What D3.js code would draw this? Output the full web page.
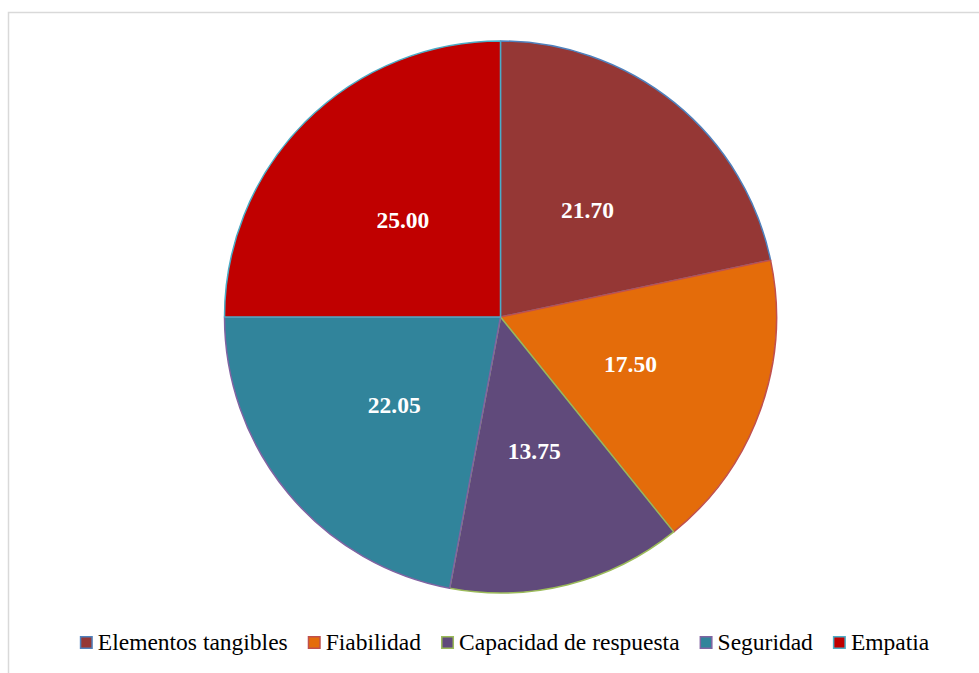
<!DOCTYPE html>
<html><head><meta charset="utf-8">
<script src="https://cdn.jsdelivr.net/npm/d3@7"></script>
<style>body{margin:0;background:#fff}svg{display:block}</style>
</head><body>
<script>
const categories = ["Elementos tangibles","Fiabilidad","Capacidad de respuesta","Seguridad","Empatia"];
const values = [21.70, 17.50, 13.75, 22.05, 25.00];
const labels = ["21.70","17.50","13.75","22.05","25.00"];
const fills = ["#953735","#E46C0A","#604A7B","#31849B","#C00000"];
const strokes = ["#4F81BD","#C0504D","#9BBB59","#8064A2","#4BACC6"];

const FONT = "Liberation Serif";
const W=979,H=673;
const svg=d3.select("body").append("svg").attr("width",W).attr("height",H);
svg.append("rect").attr("x",8.5).attr("y",12.5).attr("width",W).attr("height",H)
  .attr("fill","#fff").attr("stroke","#d9d9d9").attr("stroke-width",1.5);

const cx=500.5, cy=317, R=276;
const data=categories.map((c,i)=>({c,v:values[i],l:labels[i],f:fills[i],s:strokes[i]}));
const pie=d3.pie().value(d=>d.v).sort(null);
const arc=d3.arc().innerRadius(0).outerRadius(R);
const lab=d3.arc().innerRadius(R*0.5).outerRadius(R*0.5);
const g=svg.append("g").attr("transform",`translate(${cx},${cy})`);
const arcs=pie(data);
g.selectAll("path").data(arcs).join("path").attr("d",arc)
 .attr("fill",d=>d.data.f).attr("stroke",d=>d.data.s).attr("stroke-width",1.5).attr("stroke-linejoin","round");
g.selectAll("text").data(arcs).join("text")
 .attr("transform",d=>`translate(${lab.centroid(d)})`)
 .attr("text-anchor","middle").attr("dy","0.35em")
 .attr("font-family",FONT)
 .attr("font-weight","bold")
 .attr("font-size",23.5).attr("fill","#fff").text(d=>d.data.l);

// legend
const lg=svg.append("g");
let x=0; const items=[];
data.forEach(d=>{
  const it=lg.append("g");
  it.append("rect").attr("x",0.75).attr("y",-13.25).attr("width",11.5).attr("height",11.5)
    .attr("fill",d.f).attr("stroke",d.s).attr("stroke-width",1.5);
  const t=it.append("text").attr("x",18).attr("y",0)
    .attr("font-family",FONT).attr("font-size",23.5)
    .attr("fill","#000").text(d.c);
  const w=18+t.node().getComputedTextLength();
  items.push({it,w});
});
const gap=20;
const total=d3.sum(items,d=>d.w)+gap*(items.length-1);
x=504.5-total/2;
items.forEach(o=>{o.it.attr("transform",`translate(${x},650)`); x+=o.w+gap;});
</script>
</body></html>
